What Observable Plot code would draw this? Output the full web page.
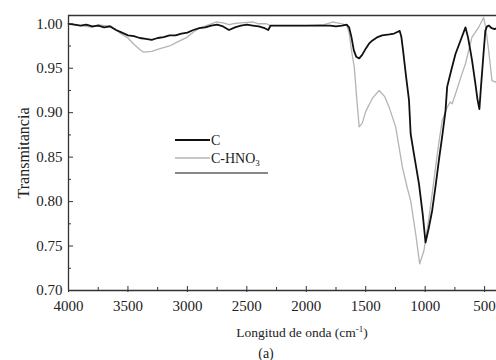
<!DOCTYPE html>
<html><head><meta charset="utf-8">
<script src="https://cdn.jsdelivr.net/npm/d3@7"></script>
<script src="https://cdn.jsdelivr.net/npm/@observablehq/plot@0.6"></script>
<style>body{margin:0;background:#fff} svg, svg text{font-family:"Liberation Serif",serif !important}</style>
</head><body><div id="chart"></div>
<script>
// C (black)
const cWave = [4000,3950,3900,3850,3800,3750,3700,3650,3600,3550,3500,3450,3400,3350,3300,3250,3200,3150,3100,3050,3000,2950,2900,2850,2800,2750,2700,2650,2600,2550,2500,2450,2400,2350,2320,2300,2200,2100,2000,1900,1800,1750,1700,1660,1640,1620,1600,1580,1555,1530,1500,1470,1446,1400,1362,1300,1261,1230,1214,1200,1186,1160,1136,1122,1090,1052,1020,997,970,941,910,885,855,829,815,780,745,700,661,640,620,606,580,560,544,530,510,494,480,466,440,416,400];
const cTrans = [1.000,0.999,0.998,0.999,0.997,0.998,0.996,0.997,0.993,0.990,0.987,0.986,0.984,0.983,0.982,0.984,0.985,0.987,0.987,0.989,0.990,0.993,0.995,0.996,0.998,0.999,0.997,0.993,0.996,0.998,0.999,0.998,0.997,0.995,0.993,0.998,0.998,0.998,0.998,0.998,0.998,0.997,0.998,0.999,0.996,0.985,0.970,0.963,0.961,0.965,0.972,0.978,0.981,0.985,0.987,0.988,0.989,0.991,0.992,0.985,0.970,0.940,0.914,0.876,0.850,0.820,0.785,0.754,0.770,0.790,0.820,0.846,0.875,0.902,0.929,0.948,0.966,0.982,0.996,0.985,0.970,0.959,0.935,0.915,0.904,0.930,0.965,0.992,0.997,0.998,0.995,0.994,0.995];
// C-HNO3 (gray)
const hWave = [4000,3950,3900,3850,3800,3750,3700,3650,3600,3550,3500,3450,3400,3369,3300,3230,3150,3090,3000,2951,2900,2839,2800,2755,2700,2650,2618,2550,2450,2400,2336,2300,2000,1850,1800,1780,1740,1697,1660,1640,1620,1596,1575,1555,1530,1498,1440,1387,1340,1303,1248,1192,1150,1122,1080,1046,1010,968,940,912,885,857,815,790,773,745,700,661,630,606,550,520,508,490,466,438,400];
const hTrans = [1.000,0.999,0.998,0.997,0.996,0.999,0.998,0.998,0.993,0.988,0.984,0.977,0.971,0.968,0.969,0.972,0.975,0.979,0.985,0.9905,0.995,0.998,1.000,1.002,1.001,0.999,1.000,1.001,1.002,1.000,1.000,0.998,0.998,0.999,1.001,1.002,1.001,1.000,0.998,0.990,0.970,0.951,0.915,0.884,0.888,0.902,0.917,0.925,0.918,0.906,0.884,0.839,0.815,0.801,0.764,0.730,0.745,0.782,0.810,0.839,0.866,0.891,0.906,0.912,0.910,0.921,0.940,0.955,0.972,0.985,0.996,1.004,1.007,0.995,0.970,0.936,0.934];

const xMajor = [4000,3500,3000,2500,2000,1500,1000,500];
const xMinor = [3750,3250,2750,2250,1750,1250,750];
const yMajor = [0.70,0.75,0.80,0.85,0.90,0.95,1.00];
const yMinor = [0.725,0.775,0.825,0.875,0.925,0.975];
const xDomain = [4000,400];
const yDomain = [0.70,1.0093];
const xTitle = "Longitud de onda (cm";
const yTitle = "Transmitancia";
const seriesNames = ["C","C-HNO"];
const panelTag = "(a)";

const cData = cWave.map((w,i)=>({w,t:cTrans[i]}));
const hData = hWave.map((w,i)=>({w,t:hTrans[i]}));
const axisColor = "#333";

const chart = Plot.plot({
  width:496, height:360,
  marginLeft:68, marginRight:0, marginTop:15, marginBottom:70,
  style:{fontFamily:"Liberation Serif, serif", fontSize:"15px", color:"#222", background:"#fff", overflow:"visible"},
  x:{domain:xDomain, label:null},
  y:{domain:yDomain, label:null},
  marks:[
    Plot.line(hData,{x:"w",y:"t",stroke:"#b4b4b4",strokeWidth:1.3}),
    Plot.line(cData,{x:"w",y:"t",stroke:"#111",strokeWidth:1.8}),
    Plot.ruleY([yDomain[1]],{stroke:axisColor,strokeWidth:1.3}),
    Plot.ruleY([yDomain[0]],{stroke:axisColor,strokeWidth:1.3}),
    Plot.ruleX([xDomain[0]],{stroke:axisColor,strokeWidth:1.3}),
    Plot.axisX({ticks:xMajor, tickSize:0, tickPadding:10, tickFormat:d=>String(d), label:null, fill:"#222", fontSize:15}),
    Plot.axisX({ticks:xMajor, tickSize:6, dy:-4, tickFormat:()=>"", label:null, stroke:axisColor}),
    Plot.axisX({ticks:xMinor, tickSize:3, dy:-3, tickFormat:()=>"", label:null, stroke:axisColor}),
    Plot.axisY({ticks:yMajor, tickSize:0, tickPadding:6, tickFormat:d=>d.toFixed(2), label:null, fill:"#222", fontSize:15}),
    Plot.axisY({ticks:yMajor, tickSize:5, dx:5, tickFormat:()=>"", label:null, stroke:axisColor}),
    Plot.axisY({ticks:yMinor, tickSize:3, dx:3, tickFormat:()=>"", label:null, stroke:axisColor})
  ]
});
document.getElementById("chart").appendChild(chart);

const svg = d3.select(chart);
const font = "Liberation Serif, serif";
// axis titles
const xt = svg.append("text").attr("x",302).attr("y",337).attr("text-anchor","middle")
  .attr("font-family",font).attr("font-size",13.5).attr("fill","#222");
xt.append("tspan").text(xTitle);
xt.append("tspan").attr("dy",-5).attr("font-size",9).text("-1");
xt.append("tspan").attr("dy",5).text(")");
svg.append("text").attr("transform","translate(29,153) rotate(-90)").attr("text-anchor","middle")
  .attr("font-family",font).attr("font-size",16).attr("fill","#222").text(yTitle);
svg.append("text").attr("x",266).attr("y",358).attr("text-anchor","middle")
  .attr("font-family",font).attr("font-size",14).attr("fill","#222").text(panelTag);
// legend
svg.append("line").attr("x1",175).attr("x2",210).attr("y1",140).attr("y2",140).attr("stroke","#111").attr("stroke-width",1.8);
svg.append("text").attr("x",211).attr("y",145).attr("text-anchor","start").attr("font-family",font).attr("font-size",14).attr("fill","#222").text(seriesNames[0]);
svg.append("line").attr("x1",175).attr("x2",210).attr("y1",158).attr("y2",158).attr("stroke","#b4b4b4").attr("stroke-width",1.3);
const lt = svg.append("text").attr("x",211).attr("y",163).attr("text-anchor","start").attr("font-family",font).attr("font-size",14).attr("fill","#222");
lt.append("tspan").text(seriesNames[1]);
lt.append("tspan").attr("dy",3).attr("font-size",9).text("3");
svg.append("line").attr("x1",175).attr("x2",268).attr("y1",173).attr("y2",173).attr("stroke","#111").attr("stroke-width",1.2);
</script></body></html>
